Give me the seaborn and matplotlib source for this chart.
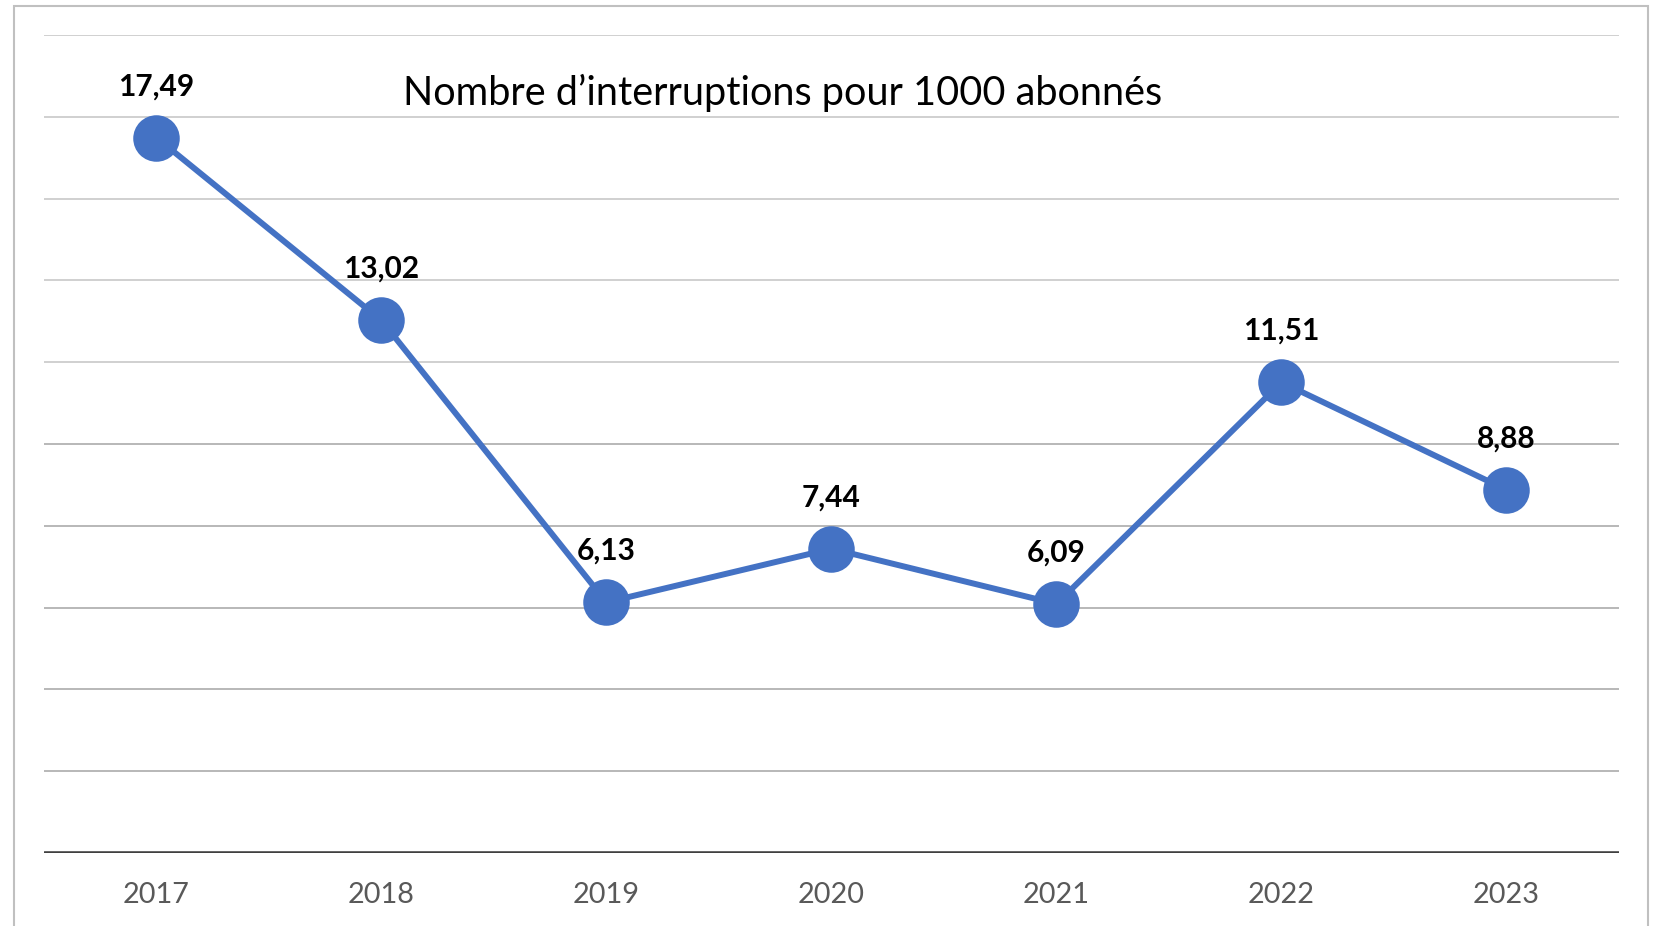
import matplotlib
matplotlib.use("Agg")
import matplotlib.pyplot as plt
import seaborn as sns
import pandas as pd
from matplotlib.patches import Rectangle

# Data
years = ["2017", "2018", "2019", "2020", "2021", "2022", "2023"]
interruptions = [17.49, 13.02, 6.13, 7.44, 6.09, 11.51, 8.88]
title = "Nombre d\u2019interruptions pour 1000 abonnés"

BLUE = "#4472C4"

sns.set_style("white")
plt.rcParams["font.family"] = ["Lato", "DejaVu Sans"]

df = pd.DataFrame({"Année": years, "Valeur": interruptions})

W, H = 1658, 926
fig = plt.figure(figsize=(W / 100, H / 100), dpi=100)
ax = fig.add_axes([44 / W, (H - 853) / H, (1619 - 44) / W, (853 - 35) / H])

# gridlines
for y in range(2, 21, 2):
    ax.axhline(y, color="#d0d0d0" if y > 10 else "#b8b8b8", lw=1.4, zorder=0)
ax.axhline(0, color="#404040", lw=3.3, zorder=1)

sns.lineplot(data=df, x="Année", y="Valeur", color=BLUE, linewidth=4.3,
             marker="o", markersize=33.5, markeredgewidth=0, ax=ax, zorder=3)

for i, v in enumerate(interruptions):
    ax.annotate(f"{v:.2f}".replace(".", ","), (i, v), xytext=(0, 37),
                textcoords="offset points", ha="center", va="center",
                fontsize=21.5, fontweight="bold", color="black")

ax.text(0.469, 0.929, title, transform=ax.transAxes, ha="center", va="center",
        fontsize=28.5, color="black")

ax.set_xlim(-0.5, len(years) - 0.5)
ax.set_ylim(0, 20)
ax.set_yticks([])
ax.set_xlabel("")
ax.set_ylabel("")
ax.tick_params(axis="x", length=0, pad=21, labelsize=20.8, labelcolor="#595959")
for s in ax.spines.values():
    s.set_visible(False)

# outer frame
fig.patches.append(Rectangle((14 / W, -0.05), (1648 - 14) / W, (H - 6) / H + 0.05,
                             transform=fig.transFigure, fill=False,
                             edgecolor="#c0c0c0", lw=1.5))

fig.savefig("out.png", dpi=100)
